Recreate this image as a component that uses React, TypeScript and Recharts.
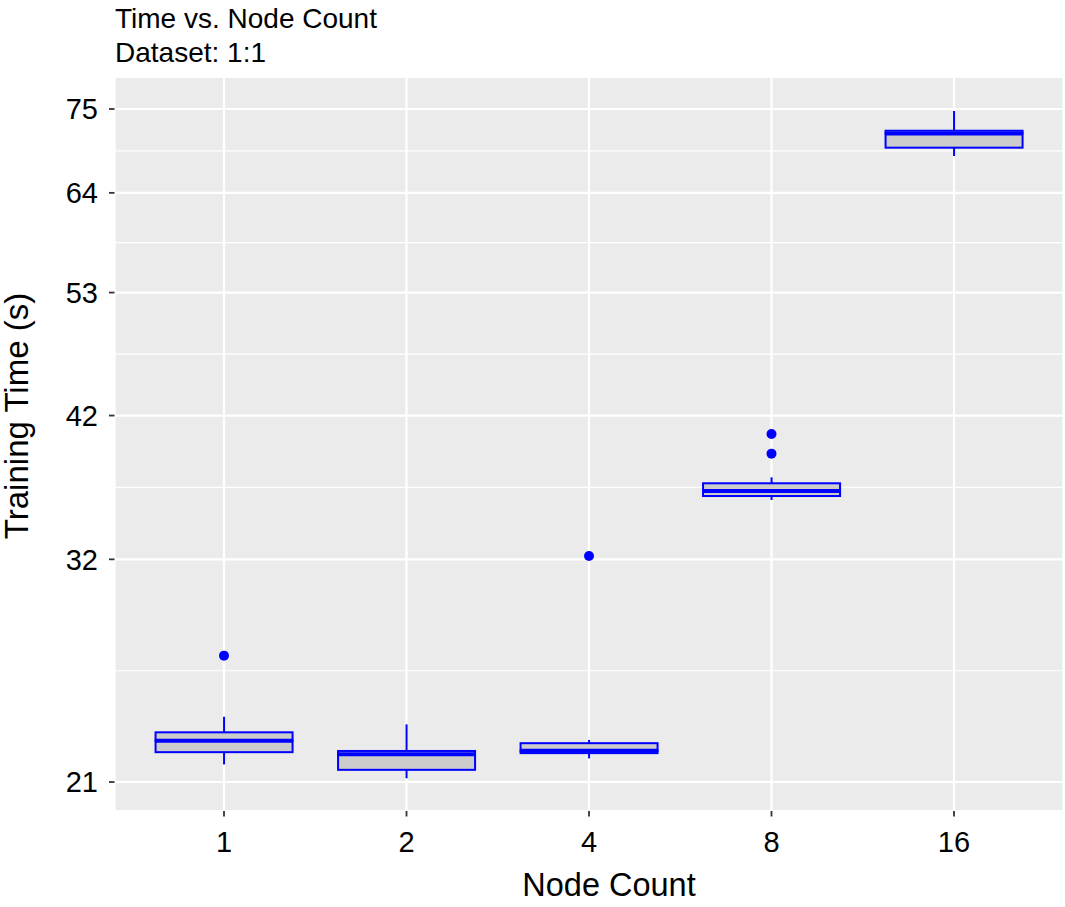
import React from "react";
import { ComposedChart, Bar, Scatter, XAxis, YAxis, CartesianGrid } from "recharts";

const nodes = ["1", "2", "4", "8", "16"];
const whiskerLow = [21.71, 21.15, 21.96, 35.8, 68.62];
const lowerQuartile = [22.22, 21.49, 22.18, 36.07, 69.71];
const median = [22.71, 22.13, 22.28, 36.41, 71.62];
const upperQuartile = [23.07, 22.27, 22.6, 36.95, 71.98];
const whiskerHigh = [23.76, 23.42, 22.74, 37.37, 74.72];
const outliers: number[][] = [[26.67], [], [32.2], [40.56, 39.08], []];

const majorTicks = [21, 32, 42, 53, 64, 75];
const minorTicks = [25.92, 36.66, 47.18, 58.24, 69.28];
const yDomain = [19.88, 79.68];

const data = nodes.map((node, i) => ({
  node,
  whisker: [whiskerLow[i], whiskerHigh[i]],
  lower: [lowerQuartile[i], median[i]],
  upper: [median[i], upperQuartile[i]],
  out1: outliers[i][0] ?? null,
  out2: outliers[i][1] ?? null,
}));

const FONT = "'Liberation Sans', Arial, Helvetica, sans-serif";
const BLUE = "#0000FF";
const BOX_FILL = "#CCCCCC";
const xPad = { left: 18.25, right: 18.25 };

const WhiskerShape = (p: any) => {
  const cx = p.x + p.width / 2;
  const top = Math.min(p.y, p.y + p.height);
  const bottom = Math.max(p.y, p.y + p.height);
  return <line x1={cx} x2={cx} y1={top} y2={bottom} stroke={BLUE} strokeWidth={2} />;
};

const LowerBoxShape = (p: any) => {
  const top = Math.min(p.y, p.y + p.height);
  const h = Math.abs(p.height);
  return <rect x={p.x} y={top} width={p.width} height={h} fill={BOX_FILL} stroke={BLUE} strokeWidth={2} />;
};

const UpperBoxShape = (p: any) => {
  const top = Math.min(p.y, p.y + p.height);
  const h = Math.abs(p.height);
  return (
    <g>
      <rect x={p.x} y={top} width={p.width} height={h} fill={BOX_FILL} stroke={BLUE} strokeWidth={2} />
      <line x1={p.x} x2={p.x + p.width} y1={top + h} y2={top + h} stroke={BLUE} strokeWidth={4} />
    </g>
  );
};

const OutlierShape = (p: any) => {
  if (p.cx == null || p.cy == null || !isFinite(p.cx) || !isFinite(p.cy)) return null;
  if (p.payload == null) return null;
  return <circle cx={p.cx} cy={p.cy} r={5} fill={BLUE} />;
};

export default function App() {
  return (
    <div style={{ position: "absolute", left: 0, top: 0, width: 1065, height: 907, background: "#fff" }}>
      <ComposedChart
        width={1065}
        height={907}
        data={data}
        margin={{ top: 77, right: 1.5, bottom: 0, left: 0 }}
        barCategoryGap="12.5%"
      >
        <CartesianGrid
          xAxisId="x"
          yAxisId="y"
          fill="#EBEBEB"
          fillOpacity={1}
          stroke="#FFFFFF"
          strokeWidth={2.2}
        />
        <CartesianGrid
          xAxisId="x"
          yAxisId="minor"
          vertical={false}
          stroke="#FFFFFF"
          strokeWidth={1.2}
        />
        <XAxis
          xAxisId="x"
          dataKey="node"
          type="category"
          height={96}
          padding={xPad}
          axisLine={false}
          tickSize={5.5}
          tickMargin={15}
          tickLine={{ stroke: "#333333", strokeWidth: 1.8 }}
          tick={{ fill: "#000", fontSize: 29, fontFamily: FONT }}
        />
        <XAxis xAxisId="b1" dataKey="node" type="category" orientation="top" height={0} hide padding={xPad} />
        <XAxis xAxisId="b2" dataKey="node" type="category" orientation="top" height={0} hide padding={xPad} />
        <YAxis
          yAxisId="y"
          type="number"
          scale="log"
          domain={yDomain}
          allowDataOverflow
          ticks={majorTicks}
          width={114.5}
          axisLine={false}
          tickSize={5.5}
          tickMargin={11}
          tickLine={{ stroke: "#333333", strokeWidth: 1.8 }}
          tick={{ fill: "#000", fontSize: 29, fontFamily: FONT }}
        />
        <YAxis
          yAxisId="minor"
          type="number"
          scale="log"
          domain={yDomain}
          allowDataOverflow
          ticks={minorTicks}
          orientation="right"
          width={0}
          hide
        />
        <Bar xAxisId="x" yAxisId="y" dataKey="whisker" shape={WhiskerShape} isAnimationActive={false} />
        <Bar xAxisId="b1" yAxisId="y" dataKey="lower" shape={LowerBoxShape} isAnimationActive={false} />
        <Bar xAxisId="b2" yAxisId="y" dataKey="upper" shape={UpperBoxShape} isAnimationActive={false} />
        <Scatter xAxisId="x" yAxisId="y" dataKey="out1" shape={OutlierShape} isAnimationActive={false} />
        <Scatter xAxisId="x" yAxisId="y" dataKey="out2" shape={OutlierShape} isAnimationActive={false} />
      </ComposedChart>
      <svg
        width={1065}
        height={907}
        style={{ position: "absolute", left: 0, top: 0, pointerEvents: "none" }}
      >
        <text x={115} y={28} fontSize={28} fontFamily={FONT} fill="#000">
          Time vs. Node Count
        </text>
        <text x={115} y={62} fontSize={28} fontFamily={FONT} fill="#000">
          Dataset: 1:1
        </text>
        <text x={609} y={896} fontSize={32.5} fontFamily={FONT} fill="#000" textAnchor="middle">
          Node Count
        </text>
        <text
          x={28}
          y={416}
          fontSize={33}
          fontFamily={FONT}
          fill="#000"
          textAnchor="middle"
          transform="rotate(-90 28 416)"
        >
          Training Time (s)
        </text>
      </svg>
    </div>
  );
}
